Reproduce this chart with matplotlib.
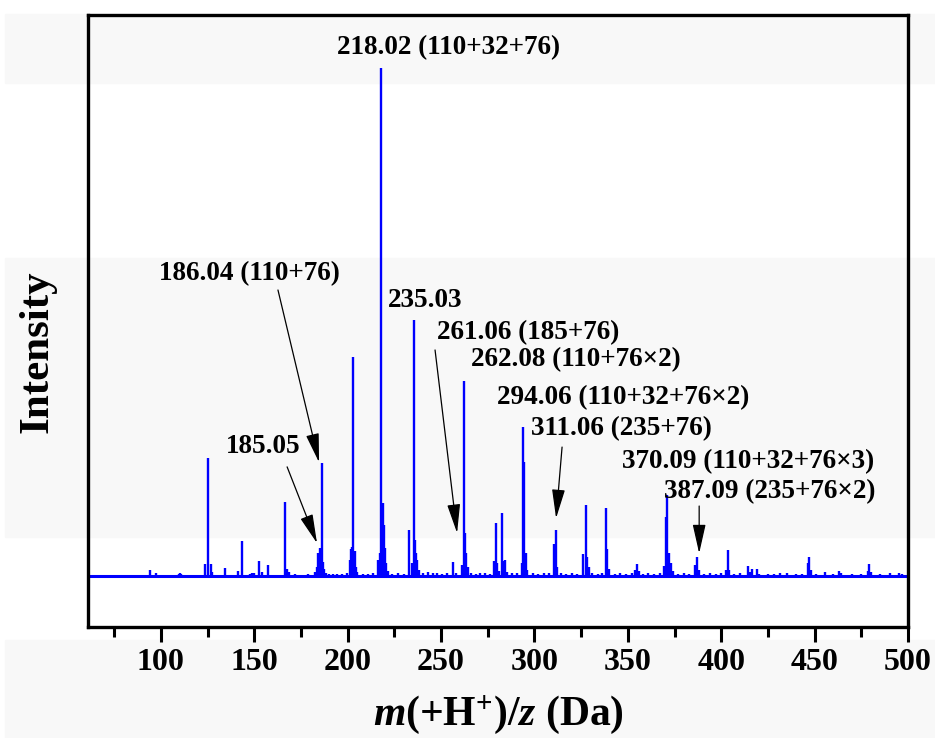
import matplotlib.pyplot as plt
from matplotlib.patches import Rectangle

# peak positions (m/z) and relative intensities
peak_mz = [79.7, 94.4, 97.2, 109.5, 110.3, 111.0, 123.5, 125.4, 126.7, 127.6,
           134.4, 141.3, 143.3, 147.5, 148.8, 150.0, 152.4, 154.3, 157.4, 166.5,
           167.6, 168.6, 172.0, 175.0, 179.0, 182.5, 183.5, 184.3, 185.1, 186.3,
           186.8, 187.4, 188.2, 190.0, 192.0, 194.5, 197.0, 199.5, 201.0, 201.8,
           202.4, 203.1, 203.7, 204.3, 205.1, 208.0, 211.0, 213.5, 216.5, 217.3,
           218.0, 218.7, 219.3, 220.0, 220.8, 221.7, 224.0, 227.0, 230.0, 233.1,
           234.2, 235.3, 235.9, 236.5, 237.1, 238.0, 240.5, 243.0, 245.5, 248.0,
           250.5, 253.0, 256.6, 258.0, 261.4, 262.2, 262.8, 263.4, 264.2, 266.0,
           268.5, 271.0, 273.5, 276.0, 278.4, 279.3, 280.0, 281.0, 282.5, 283.2,
           284.3, 285.5, 288.0, 290.5, 293.4, 294.1, 294.6, 295.3, 296.2, 299.0,
           302.0, 305.0, 308.0, 310.7, 311.4, 312.2, 314.0, 317.0, 320.0, 323.0,
           326.2, 327.5, 328.2, 329.1, 331.0, 334.0, 336.0, 338.4, 339.1, 340.0,
           343.0, 346.0, 349.0, 352.0, 353.8, 354.8, 355.8, 358.0, 361.0, 364.0,
           367.0, 369.4, 370.2, 371.1, 372.2, 373.0, 374.0, 377.0, 380.0, 383.0,
           386.2, 387.1, 388.0, 391.0, 394.0, 397.0, 400.0, 402.7, 403.5, 404.3,
           407.0, 410.0, 414.2, 415.2, 416.4, 419.0, 420.0, 425.0, 428.0, 431.5,
           435.1, 440.0, 443.0, 446.4, 447.2, 448.0, 451.0, 455.6, 460.0, 463.1,
           464.0, 470.0, 475.0, 478.5, 479.2, 480.1, 485.0, 490.4, 495.3, 497.0]
peak_int = [0.3, 1.2, 0.7, 0.5, 0.7, 0.4, 2.3, 23.2, 2.4, 0.9,
            1.7, 1.0, 6.9, 0.5, 0.6, 0.6, 3.0, 0.8, 2.2, 14.6,
            1.4, 0.8, 0.4, 0.3, 0.4, 0.8, 1.8, 4.6, 5.6, 22.3,
            2.8, 1.5, 0.7, 0.5, 0.4, 0.5, 0.4, 0.6, 3.1, 5.4,
            5.7, 43.1, 5.0, 1.8, 0.8, 0.5, 0.4, 0.6, 3.1, 4.6,
            100.0, 14.3, 10.0, 5.5, 2.5, 1.0, 0.5, 0.6, 0.4, 9.1,
            2.5, 50.4, 7.1, 4.6, 3.1, 1.2, 0.7, 0.8, 0.6, 0.7,
            0.5, 0.6, 2.8, 0.7, 2.2, 38.4, 8.4, 4.6, 1.8, 0.6,
            0.5, 0.7, 0.6, 0.5, 3.0, 10.4, 2.5, 1.0, 12.4, 2.9,
            3.1, 0.8, 0.6, 0.7, 2.5, 29.3, 22.5, 4.6, 1.3, 0.6,
            0.5, 0.6, 0.7, 6.4, 9.1, 1.8, 0.6, 0.5, 0.6, 0.5,
            4.3, 14.0, 3.7, 1.8, 0.6, 0.5, 0.7, 13.5, 5.3, 1.5,
            0.5, 0.6, 0.5, 0.7, 1.2, 2.4, 1.0, 0.5, 0.6, 0.5,
            0.7, 2.0, 11.7, 16.0, 4.6, 2.5, 1.0, 0.5, 0.6, 0.5,
            2.2, 3.8, 1.2, 0.5, 0.6, 0.5, 0.6, 1.2, 5.1, 1.2,
            0.5, 0.6, 2.0, 0.9, 1.5, 1.4, 0.5, 0.4, 0.5, 0.6,
            0.7, 0.4, 0.5, 2.5, 3.7, 1.2, 0.4, 0.8, 0.4, 1.0,
            0.6, 0.4, 0.4, 1.0, 2.3, 0.8, 0.4, 0.6, 0.7, 0.4]

# labels: text, text centre (m/z, intensity)
labels = ['218.02 (110+32+76)', '186.04 (110+76)', '185.05', '235.03',
          '261.06 (185+76)', '262.08 (110+76×2)', '294.06 (110+32+76×2)',
          '311.06 (235+76)', '370.09 (110+32+76×3)', '387.09 (235+76×2)']
label_x = [253.8, 147.5, 155.0, 241.5, 296.5, 322.0, 347.5, 346.5, 414.5, 426.0]
label_y = [104.0, 59.5, 25.6, 54.3, 48.0, 42.7, 35.2, 29.0, 22.6, 16.7]

# arrows: start and tip
arrow_from = [(162.7, 56.3), (167.6, 21.5), (246.8, 44.5), (314.8, 25.4), (388.2, 13.8)]
arrow_to = [(184.7, 22.4), (183.6, 6.5), (258.6, 8.5), (311.6, 11.4), (388.2, 4.5)]

serif = 'Liberation Serif'
plt.rcParams['font.family'] = serif
plt.rcParams['mathtext.fontset'] = 'custom'
plt.rcParams['mathtext.rm'] = 'Liberation Serif:bold'
plt.rcParams['mathtext.it'] = 'Liberation Serif:italic:bold'
plt.rcParams['mathtext.bf'] = 'Liberation Serif:bold'

fig = plt.figure(figsize=(9.35, 7.38), dpi=100)
# faint grey bands of the original image
for y0, y1 in [(14, 83), (258, 537), (640, 738)]:
    fig.patches.append(Rectangle((5 / 935, 1 - y1 / 738), 1, (y1 - y0) / 738,
                                 transform=fig.transFigure, color='#f8f8f8', zorder=-10))

ax = fig.add_axes([88 / 935, 1 - 627 / 738, (908 - 88) / 935, (627 - 15) / 738])
ax.set_facecolor('none')

ax.vlines(peak_mz, 0, peak_int, color='#0000ff', lw=1.7)
ax.axhline(0, color='#0000ff', lw=2.2)

for t, x, y in zip(labels, label_x, label_y):
    ax.text(x, y, t, ha='center', va='center', fontsize=19.5, fontweight='bold')

for (x0, y0), (x1, y1) in zip(arrow_from, arrow_to):
    ax.annotate('', xy=(x1, y1), xytext=(x0, y0),
                arrowprops=dict(arrowstyle='-|>,head_length=1.2,head_width=0.27',
                                color='black', lw=0.9, mutation_scale=15,
                                shrinkA=0, shrinkB=0))

ax.set_xlim(61, 500)
ax.set_ylim(-10, 110.4)
ax.set_xticks([100, 150, 200, 250, 300, 350, 400, 450, 500])
ax.set_xticks([75, 125, 175, 225, 275, 325, 375, 425, 475], minor=True)
ax.set_yticks([])
ax.tick_params(axis='x', which='major', length=11, width=2.2, labelsize=23, pad=4)
ax.tick_params(axis='x', which='minor', length=7, width=2.2)
for lab in ax.get_xticklabels():
    lab.set_fontweight('bold')
for s in ax.spines.values():
    s.set_linewidth(2.4)

ax.set_xlabel(r'$m$(+H$^{+}$)/$z$ (Da)', fontsize=30, fontweight='bold', labelpad=12)
ax.set_ylabel('Intensity', fontsize=31, fontweight='bold')
ax.yaxis.set_label_coords(-0.038, 0.45)

fig.savefig('out.png', dpi=100)
